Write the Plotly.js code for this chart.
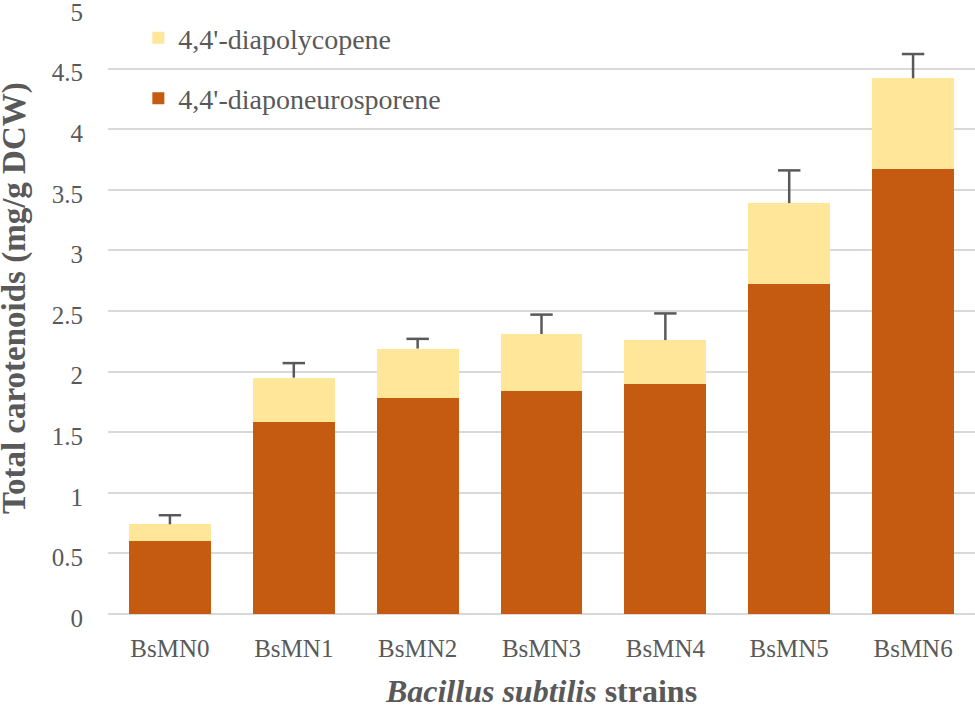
<!DOCTYPE html>
<html>
<head>
<meta charset="utf-8">
<script src="https://cdn.plot.ly/plotly-3.0.1.min.js"></script>
<style>html,body{margin:0;padding:0;background:#fff;}#chart{width:975px;height:709px;}</style>
</head>
<body>
<div id="chart"></div>
<script>
const strains = ["BsMN0", "BsMN1", "BsMN2", "BsMN3", "BsMN4", "BsMN5", "BsMN6"];
const diaponeurosporene = [0.60, 1.58, 1.78, 1.84, 1.90, 2.72, 3.67];
const diapolycopene = [0.14, 0.37, 0.41, 0.47, 0.36, 0.67, 0.75];
const totalError = [0.075, 0.12, 0.08, 0.16, 0.22, 0.27, 0.20];
const yTicks = [0, 0.5, 1, 1.5, 2, 2.5, 3, 3.5, 4, 4.5, 5];
const yTickText = ["0", "0.5", "1", "1.5", "2", "2.5", "3", "3.5", "4", "4.5", "5"];

const serif = "Liberation Serif, Times New Roman, serif";
const grey = "#595959";

const totals = diaponeurosporene.map((v, i) => v + diapolycopene[i]);
const errTops = totals.map((v, i) => v + totalError[i]);

const traces = [
  {
    type: "bar", name: "4,4'-diaponeurosporene", x: strains, y: diaponeurosporene,
    marker: {color: "#C55A11"}, legendgroup: "a", legendrank: 2
  },
  {
    type: "bar", name: "4,4'-diapolycopene", x: strains, y: diapolycopene,
    marker: {color: "#FFE699"}, legendgroup: "b", legendrank: 1
  },
  {
    type: "scatter", mode: "markers", x: strains, y: totals, showlegend: false,
    marker: {size: 1, opacity: 0, color: grey},
    error_y: {type: "data", symmetric: false, array: totalError,
              arrayminus: strains.map(() => 0), color: grey, thickness: 2.5, width: 0}
  },
  {
    type: "scatter", mode: "markers", x: strains, y: errTops, showlegend: false,
    marker: {symbol: "line-ew-open", size: 16, color: grey, line: {color: grey, width: 2.5}}
  }
];

const layout = {
  width: 975, height: 709,
  margin: {l: 108, r: 0, t: 7, b: 95},
  paper_bgcolor: "#fff", plot_bgcolor: "#fff",
  barmode: "stack", bargap: 0.34,
  font: {family: serif, color: grey, size: 28},
  showlegend: true,
  legend: {x: 0.035, y: 0.99, xanchor: "left", yanchor: "top",
           traceorder: "grouped", tracegroupgap: 21,
           font: {family: serif, size: 28, color: grey}, bgcolor: "rgba(0,0,0,0)"},
  xaxis: {
    showgrid: false, showline: false, zeroline: false, ticks: "",
    tickfont: {family: serif, size: 25, color: grey}, ticklabelstandoff: 17,
    title: {text: "<b><i>Bacillus subtilis</i> strains</b>", font: {family: serif, size: 32, color: grey}, standoff: 20}
  },
  yaxis: {
    range: [0, 5.008], tickvals: yTicks, ticktext: yTickText,
    showgrid: true, gridcolor: "#d9d9d9", gridwidth: 2,
    zeroline: true, zerolinecolor: "#d9d9d9", zerolinewidth: 2,
    showline: false, ticks: "", ticklabelstandoff: 24, ticklabeloverflow: "allow",
    ticklabelshift: 4,
    tickfont: {family: serif, size: 25, color: grey}
  },
  annotations: [{
    text: "<b>Total carotenoids (mg/g DCW)</b>", textangle: -90,
    xref: "paper", yref: "paper", x: 0, y: 0.5206, xanchor: "center", yanchor: "middle",
    xshift: -93, showarrow: false, font: {family: serif, size: 33, color: grey}
  }]
};

Plotly.newPlot("chart", traces, layout, {displayModeBar: false, staticPlot: true});
</script>
</body>
</html>
